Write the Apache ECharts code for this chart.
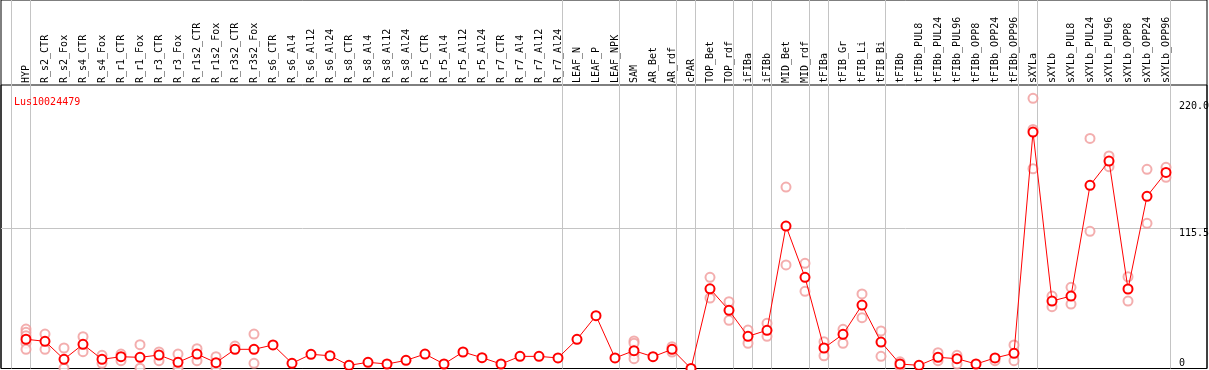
<!DOCTYPE html>
<html>
<head>
<meta charset="utf-8">
<script src="https://cdn.jsdelivr.net/npm/echarts@6/dist/echarts.min.js"></script>
<style>html,body{margin:0;padding:0;background:#fff}#c{width:1209px;height:370px}</style>
</head>
<body>
<div id="c"></div>
<script>
const title = 'Lus10024479';
const categories = ['HYP','R_s2_CTR','R_s2_Fox','R_s4_CTR','R_s4_Fox','R_r1_CTR','R_r1_Fox','R_r3_CTR','R_r3_Fox','R_r1s2_CTR','R_r1s2_Fox','R_r3s2_CTR','R_r3s2_Fox','R_s6_CTR','R_s6_Al4','R_s6_Al12','R_s6_Al24','R_s8_CTR','R_s8_Al4','R_s8_Al12','R_s8_Al24','R_r5_CTR','R_r5_Al4','R_r5_Al12','R_r5_Al24','R_r7_CTR','R_r7_Al4','R_r7_Al12','R_r7_Al24','LEAF_N','LEAF_P','LEAF_NPK','SAM','AR_Bet','AR_rdf','cPAR','TOP_Bet','TOP_rdf','iFIBa','iFIBb','MID_Bet','MID_rdf','tFIBa','tFIB_Gr','tFIB_Li','tFIB_Bi','tFIBb','tFIBb_PUL8','tFIBb_PUL24','tFIBb_PUL96','tFIBb_OPP8','tFIBb_OPP24','tFIBb_OPP96','sXYLa','sXYLb','sXYLb_PUL8','sXYLb_PUL24','sXYLb_PUL96','sXYLb_OPP8','sXYLb_OPP24','sXYLb_OPP96'];
const means = [24.1,22.4,7.6,19.9,7.6,9.7,9.2,11.1,5.1,11.9,4.8,15.8,15.8,19.4,4.3,11.7,10.5,2.6,5.1,3.7,6.7,11.9,3.7,13.6,8.9,3.7,10.0,10.0,8.7,24.0,43.5,8.7,14.7,9.7,15.8,0,65.7,47.9,26.5,31.5,117.4,75.1,16.9,28.2,52.3,21.8,3.7,2.6,9.2,8.1,3.7,8.7,12.5,194.8,55.6,59.7,150.9,170.9,65.5,141.9,161.6];
const replicates = [
  [32.5,29.8,27.0,20.8,15.8],[28.4,15.8],[16.9,0.3],[26.2,13.9],[10.9,4.3],[11.9,6.4],[19.6,0.3],[13.6,6.4],[11.9,0.3],[16.3,6.4],
  [9.7,0.3],[18.5],[28.4,4.3],[],[],[],[],[],[],[],
  [],[],[],[],[],[],[],[],[],[],
  [],[],[22.7,20.8,11.7,8.1],[],[18.0,13.6],[],[75.1,58.1],[55.0,39.7],[31.7,20.8],[37.2,26.5],
  [149.5,85.3],[86.7,63.6],[22.1,10.5],[32.3,20.8],[61.4,41.9],[30.9,10.0],[5.5,1.5],[],[13.0,6.4],[10.9,3.7],
  [],[6.4],[19.4,6.4],[222.6,197.0,164.6],[59.7,50.9],[66.9,53.1],[189.6,113.0],[175.1,166.3],[75.6,55.6],[164.1,119.6],
  [165.8,157.5]
];
const yTickLabels = [115.5, 220.0];
const yZeroLabel = [0];
const refLineY = 115.5;
const groupEnds = [-1,0,28,31,34,35,37,38,39,41,42,45,52,53,60];

const repData = [];
replicates.forEach((arr,i)=>arr.forEach(v=>repData.push([i,v])));
const meanData = means.map((v,i)=>[i,v]);
const sepData = groupEnds.map(k=>[k+0.25]);

const XMIN = -25/19, XMAX = (1207-26)/19, YMAX = 233.6;
const FONT = 'DejaVu Sans Mono';

const chart = echarts.init(document.getElementById('c'), null, {renderer:'canvas'});
chart.setOption({
  animation:false,
  backgroundColor:'#fff',
  title:{text:title,left:9,top:92,textStyle:{color:'#ff0000',fontFamily:FONT,fontSize:10,fontWeight:'normal'}},
  grid:[
    {left:1,right:2,top:85,bottom:1.5,show:true,borderColor:'#000',borderWidth:1,backgroundColor:'transparent',outerBoundsMode:'none',containLabel:false},
    {left:1,right:2,top:0,bottom:1.5,show:true,borderColor:'#000',borderWidth:1,backgroundColor:'transparent',outerBoundsMode:'none',containLabel:false}
  ],
  xAxis:[
    {type:'value',gridIndex:0,min:XMIN,max:XMAX,position:'top',
     axisLine:{show:false},axisTick:{show:false},splitLine:{show:false},
     axisLabel:{customValues:categories.map((c,i)=>i),formatter:v=>categories[Math.round(v)]||'',rotate:90,margin:2,
       fontFamily:FONT,fontSize:10,color:'#000'}},
    {type:'value',gridIndex:1,min:XMIN,max:XMAX,show:false}
  ],
  yAxis:[
    {type:'value',gridIndex:0,min:0,max:YMAX,position:'right',
     axisLine:{show:false},axisTick:{show:false},splitLine:{show:false},
     axisLabel:{inside:false,customValues:yTickLabels,formatter:v=>v.toFixed(1),align:'left',verticalAlign:'top',margin:-28,
       fontFamily:FONT,fontSize:10,color:'#000'}},
    {type:'value',gridIndex:0,min:0,max:YMAX,position:'right',
     axisLine:{show:false},axisTick:{show:false},splitLine:{show:false},
     axisLabel:{inside:false,customValues:yZeroLabel,formatter:v=>String(v),align:'left',verticalAlign:'bottom',margin:-28,
       fontFamily:FONT,fontSize:10,color:'#000'}},
    {type:'value',gridIndex:1,min:0,max:1,show:false}
  ],
  series:[
    {type:'custom',xAxisIndex:1,yAxisIndex:2,data:sepData,z:0,silent:true,
     renderItem:function(params,api){
       const a=api.coord([api.value(0),0]);const b=api.coord([api.value(0),1]);
       const x=Math.floor(a[0])+0.5;
       return {type:'line',shape:{x1:x,y1:a[1],x2:x,y2:b[1]},style:{stroke:'#c4c4c4',lineWidth:1}};
     }},
    {type:'scatter',xAxisIndex:0,yAxisIndex:0,data:repData,symbol:'emptyCircle',symbolSize:9,z:2,silent:true,
     itemStyle:{color:'#f09a9a',borderColor:'#f09a9a',borderWidth:1.3},
     markLine:{silent:true,symbol:'none',label:{show:false},lineStyle:{color:'#c4c4c4',width:1,type:'solid'},data:[{yAxis:refLineY}],z:0}},
    {type:'line',xAxisIndex:0,yAxisIndex:0,data:meanData,symbol:'emptyCircle',symbolSize:9,z:3,silent:true,
     lineStyle:{color:'#ff0000',width:1},
     itemStyle:{color:'#ff0000',borderColor:'#e80000',borderWidth:1.4}}
  ]
});
</script>
</body>
</html>
